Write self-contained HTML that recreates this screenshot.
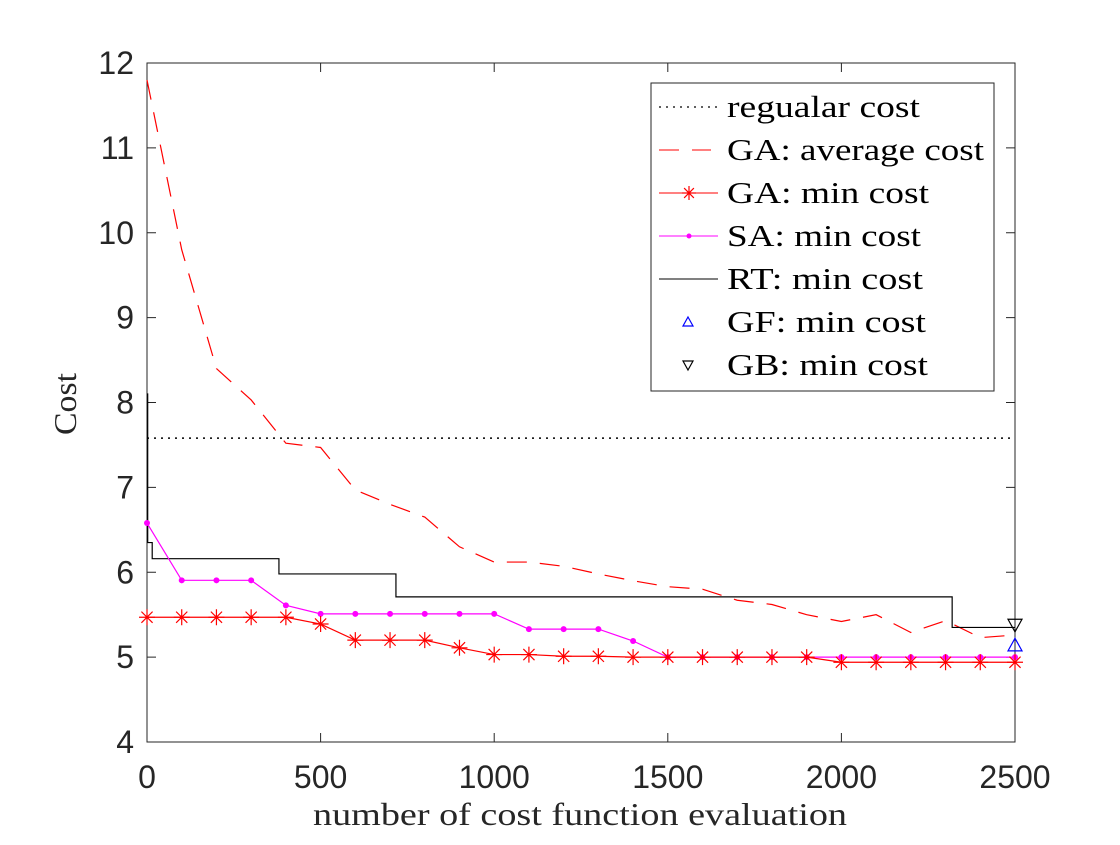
<!DOCTYPE html>
<html><head><meta charset="utf-8"><style>
body{margin:0;background:#fff}
svg text{font-family:"Liberation Sans",sans-serif}
.serif{font-family:"Liberation Serif",serif}
</style></head><body>
<svg id="chart" width="1120" height="840" xmlns="http://www.w3.org/2000/svg">
<rect width="1120" height="840" fill="#fff"/>
<g id="plot"></g>
</svg>
<script>
const xTicks=[0,500,1000,1500,2000,2500];
const yTicks=[4,5,6,7,8,9,10,11,12];
const evalX=[0,100,200,300,400,500,600,700,800,900,1000,1100,1200,1300,1400,1500,1600,1700,1800,1900,2000,2100,2200,2300,2400,2500];
const gaAvg=[11.8,9.8,8.4,8.03,7.52,7.47,6.97,6.8,6.65,6.3,6.12,6.12,6.07,5.98,5.9,5.83,5.8,5.67,5.62,5.5,5.42,5.5,5.29,5.43,5.23,5.26];
const gaMin=[5.47,5.47,5.47,5.47,5.47,5.39,5.2,5.2,5.2,5.11,5.03,5.03,5.01,5.01,5.0,5.0,5.0,5.0,5.0,5.0,4.94,4.94,4.94,4.94,4.94,4.94];
const saMin=[6.58,5.905,5.905,5.905,5.61,5.51,5.51,5.51,5.51,5.51,5.51,5.33,5.33,5.33,5.19,5.0,5.0,5.0,5.0,5.0,5.0,5.0,5.0,5.0,5.0,5.0];
const rtX=[0,2,15,380,717,2319,2500];
const rtY=[8.1,6.35,6.16,5.98,5.71,5.35,5.35];
const regularCost=[7.58];
const gfMin=[2500,5.14];
const gbMin=[2500,5.38];
const X0=147,X1=1015,Y0=742,Y1=63;
const sx=v=>X0+(v-0)/(2500-0)*(X1-X0);
const sy=v=>Y0-(v-4)/(12-4)*(Y0-Y1);
const NS="http://www.w3.org/2000/svg";
const g=document.getElementById('plot');
function mk(t,a,p){const e=document.createElementNS(NS,t);for(const k in a)e.setAttribute(k,a[k]);(p||g).appendChild(e);return e;}
let box=mk('rect',{x:X0,y:Y1,width:X1-X0,height:Y0-Y1,fill:'none',stroke:'#262626','stroke-width':1});


xTicks.forEach(t=>{
 let l=mk('path',{d:`M${sx(t)},${Y0}v-9M${sx(t)},${Y1}v9`,stroke:'#262626'});
 
 
 let tx=mk('text',{x:sx(t),y:Y0+46,'text-anchor':'middle','font-size':32,fill:'#262626'});tx.textContent=t;
 
 
});
yTicks.forEach(t=>{
 let l=mk('path',{d:`M${X0},${sy(t)}h9M${X1},${sy(t)}h-9`,stroke:'#262626'});
 
 
 let tx=mk('text',{x:X0-13,y:sy(t)+11,'text-anchor':'end','font-size':32,fill:'#262626'});tx.textContent=t;
 
 
});
let xl=mk('text',{x:313,y:825,'font-size':32,class:'serif',fill:'#262626',textLength:534,lengthAdjust:'spacingAndGlyphs'});xl.textContent='number of cost function evaluation';


let yl=mk('text',{x:0,y:0,'font-size':32,class:'serif',fill:'#262626',textLength:62,lengthAdjust:'spacingAndGlyphs',transform:'translate(76,435) rotate(-90)'});yl.textContent='Cost';


let rc=mk('line',{x1:sx(0),x2:sx(2500),y1:sy(regularCost[0]),y2:sy(regularCost[0]),stroke:'#000','stroke-dasharray':'2,5','stroke-width':1.5});


let ga=mk('polyline',{points:evalX.map((x,i)=>sx(x)+','+sy(gaAvg[i])).join(' '),fill:'none',stroke:'#f00','stroke-width':1.2,'stroke-dasharray':'20,13'});


let rtp='M'+sx(rtX[0])+','+sy(rtY[0]);
for(let i=1;i<rtX.length;i++){rtp+=' H'+sx(rtX[i])+' V'+sy(rtY[i]);}
let rt=mk('path',{d:rtp,fill:'none',stroke:'#000','stroke-width':1.2});


let sa=mk('polyline',{points:evalX.map((x,i)=>sx(x)+','+sy(saMin[i])).join(' '),fill:'none',stroke:'#f0f','stroke-width':1.2});


evalX.forEach((x,i)=>{let c=mk('circle',{cx:sx(x),cy:sy(saMin[i]),r:3,fill:'#f0f'});
 
 });
let gm=mk('polyline',{points:evalX.map((x,i)=>sx(x)+','+sy(gaMin[i])).join(' '),fill:'none',stroke:'#f00','stroke-width':1.2});


function star(cx,cy,r,p){return mk('path',{d:`M${cx-r},${cy}h${2*r}M${cx},${cy-r}v${2*r}M${cx-r*.7},${cy-r*.7}l${1.4*r},${1.4*r}M${cx-r*.7},${cy+r*.7}l${1.4*r},${-1.4*r}`,stroke:'#f00','stroke-width':1.2},p);}
evalX.forEach((x,i)=>{let s=star(sx(x),sy(gaMin[i]),8);
 
 });
function tri(cx,cy,up,col,r){const h=r;return mk('path',{d:up?`M${cx},${cy-h}L${cx+h},${cy+h*0.8}L${cx-h},${cy+h*0.8}Z`:`M${cx},${cy+h}L${cx+h},${cy-h*0.8}L${cx-h},${cy-h*0.8}Z`,fill:'none',stroke:col,'stroke-width':1.2});}
let gf=tri(sx(gfMin[0]),sy(gfMin[1]),true,'#00f',7);


let gb=tri(sx(gbMin[0]),sy(gbMin[1]),false,'#000',7);


const lg=mk('g',{});


mk('rect',{x:651,y:83,width:343,height:308,fill:'#fff',stroke:'#262626'},lg);
const labels=['regualar cost','GA: average cost','GA: min cost','SA: min cost','RT: min cost','GF: min cost','GB: min cost'];
const labelW=[193,257,202,194,196,199,201];
labels.forEach((t,i)=>{
 const cy=107+i*43;
 const e=mk('g',{},lg);
 
 
 if(i==0)mk('line',{x1:659,x2:717,y1:cy,y2:cy,stroke:'#000','stroke-dasharray':'2,5','stroke-width':1.3},e);
 if(i==1)mk('line',{x1:659,x2:711,y1:cy,y2:cy,stroke:'#f00','stroke-dasharray':'20,13'},e);
 if(i==2){mk('line',{x1:659,x2:718,y1:cy,y2:cy,stroke:'#f00'},e);star(689,cy,7,e);}
 if(i==3){mk('line',{x1:659,x2:718,y1:cy,y2:cy,stroke:'#f0f'},e);mk('circle',{cx:689,cy:cy,r:2.5,fill:'#f0f'},e);}
 if(i==4)mk('line',{x1:659,x2:718,y1:cy,y2:cy,stroke:'#000'},e);
 if(i==5){const p=tri(688,cy,true,'#00f',5);e.appendChild(p);}
 if(i==6){const p=tri(688,cy,false,'#000',5);e.appendChild(p);}
 const tx=mk('text',{x:727,y:cy+10,'font-size':31,class:'serif',fill:'#000',textLength:labelW[i],lengthAdjust:'spacingAndGlyphs'},e);tx.textContent=t;
});
</script>
</body></html>
